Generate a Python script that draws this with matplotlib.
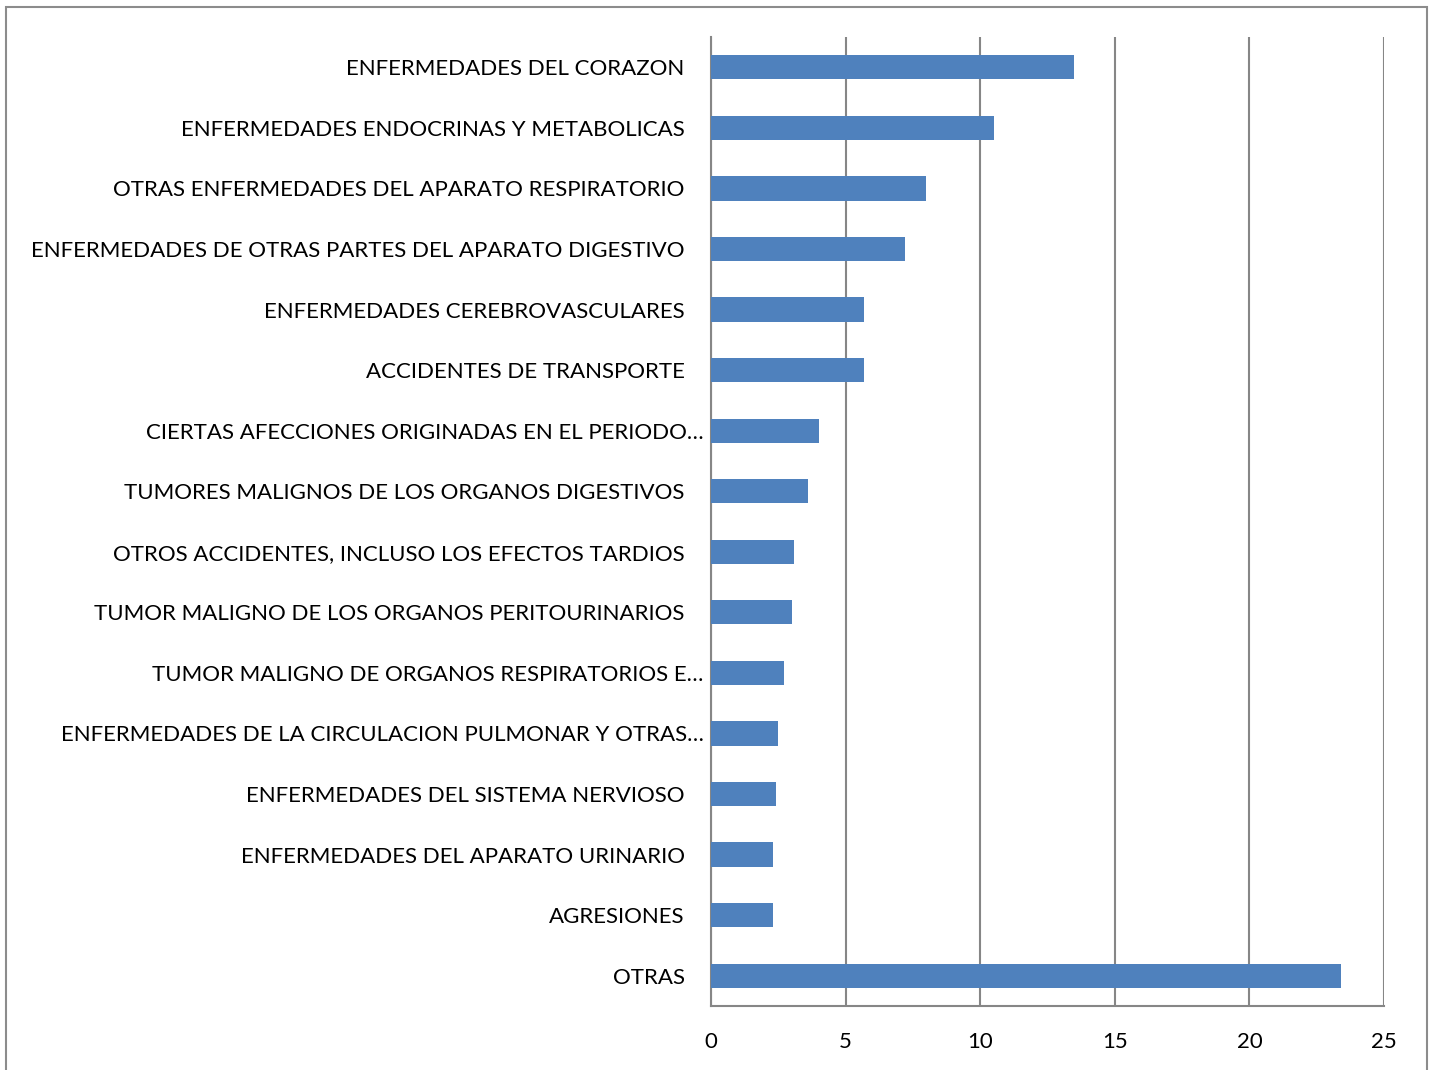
import matplotlib
matplotlib.use('Agg')
from matplotlib import pyplot as plt
from matplotlib.patches import Rectangle
from matplotlib.transforms import ScaledTranslation

causes = [
    'ENFERMEDADES DEL CORAZON',
    'ENFERMEDADES ENDOCRINAS Y METABOLICAS',
    'OTRAS ENFERMEDADES DEL APARATO RESPIRATORIO',
    'ENFERMEDADES DE OTRAS PARTES DEL APARATO DIGESTIVO',
    'ENFERMEDADES CEREBROVASCULARES',
    'ACCIDENTES DE TRANSPORTE',
    'CIERTAS AFECCIONES ORIGINADAS EN EL PERIODO…',
    'TUMORES MALIGNOS DE LOS ORGANOS DIGESTIVOS',
    'OTROS ACCIDENTES, INCLUSO LOS EFECTOS TARDIOS',
    'TUMOR MALIGNO DE LOS ORGANOS PERITOURINARIOS',
    'TUMOR MALIGNO DE ORGANOS RESPIRATORIOS E…',
    'ENFERMEDADES DE LA CIRCULACION PULMONAR Y OTRAS…',
    'ENFERMEDADES DEL SISTEMA NERVIOSO',
    'ENFERMEDADES DEL APARATO URINARIO',
    'AGRESIONES',
    'OTRAS',
]
percent = [13.5, 10.5, 8.0, 7.2, 5.7, 5.7, 4.0, 3.6, 3.1, 3.0, 2.7, 2.5, 2.4, 2.3, 2.3, 23.4]
x_ticks = [0, 5, 10, 15, 20, 25]

plt.rcParams['font.family'] = ['Lato', 'DejaVu Sans']

fig = plt.figure(figsize=(14.33, 10.70), dpi=100)
ax = fig.add_axes([0.4962, 0.0598, 0.9658 - 0.4962, 0.9654 - 0.0598])

# outer chart frame (bottom edge is cut off in the original)
fig.patches.append(Rectangle((6 / 1433, -0.05), 1421 / 1433, 1.05 - 7 / 1070,
                             transform=fig.transFigure, fill=False,
                             edgecolor='#8c8c8c', linewidth=1.5))

y = range(len(causes))
ax.barh(y, percent, height=0.4, color='#4f81bd', zorder=3)
ax.set_ylim(len(causes) - 0.5, -0.5)
ax.set_xlim(0, 25)
ax.set_xticks(x_ticks)
ax.set_yticks(list(y))
ax.set_yticklabels(causes)

ax.grid(axis='x', color='#868686', linewidth=1.5, zorder=0)
for side in ['top', 'right']:
    ax.spines[side].set_visible(False)
for side in ['left', 'bottom']:
    ax.spines[side].set_color('#868686')
    ax.spines[side].set_linewidth(1.5)
ax.tick_params(axis='both', length=0, labelsize=16, colors='black')
ax.tick_params(axis='y', pad=19)
ax.tick_params(axis='x', pad=19)

# truncated labels run closer to the axis
for lab in ax.get_yticklabels():
    if lab.get_text().endswith('…'):
        lab.set_transform(lab.get_transform() + ScaledTranslation(0.19, 0, fig.dpi_scale_trans))

plt.savefig('out.png', dpi=100)
